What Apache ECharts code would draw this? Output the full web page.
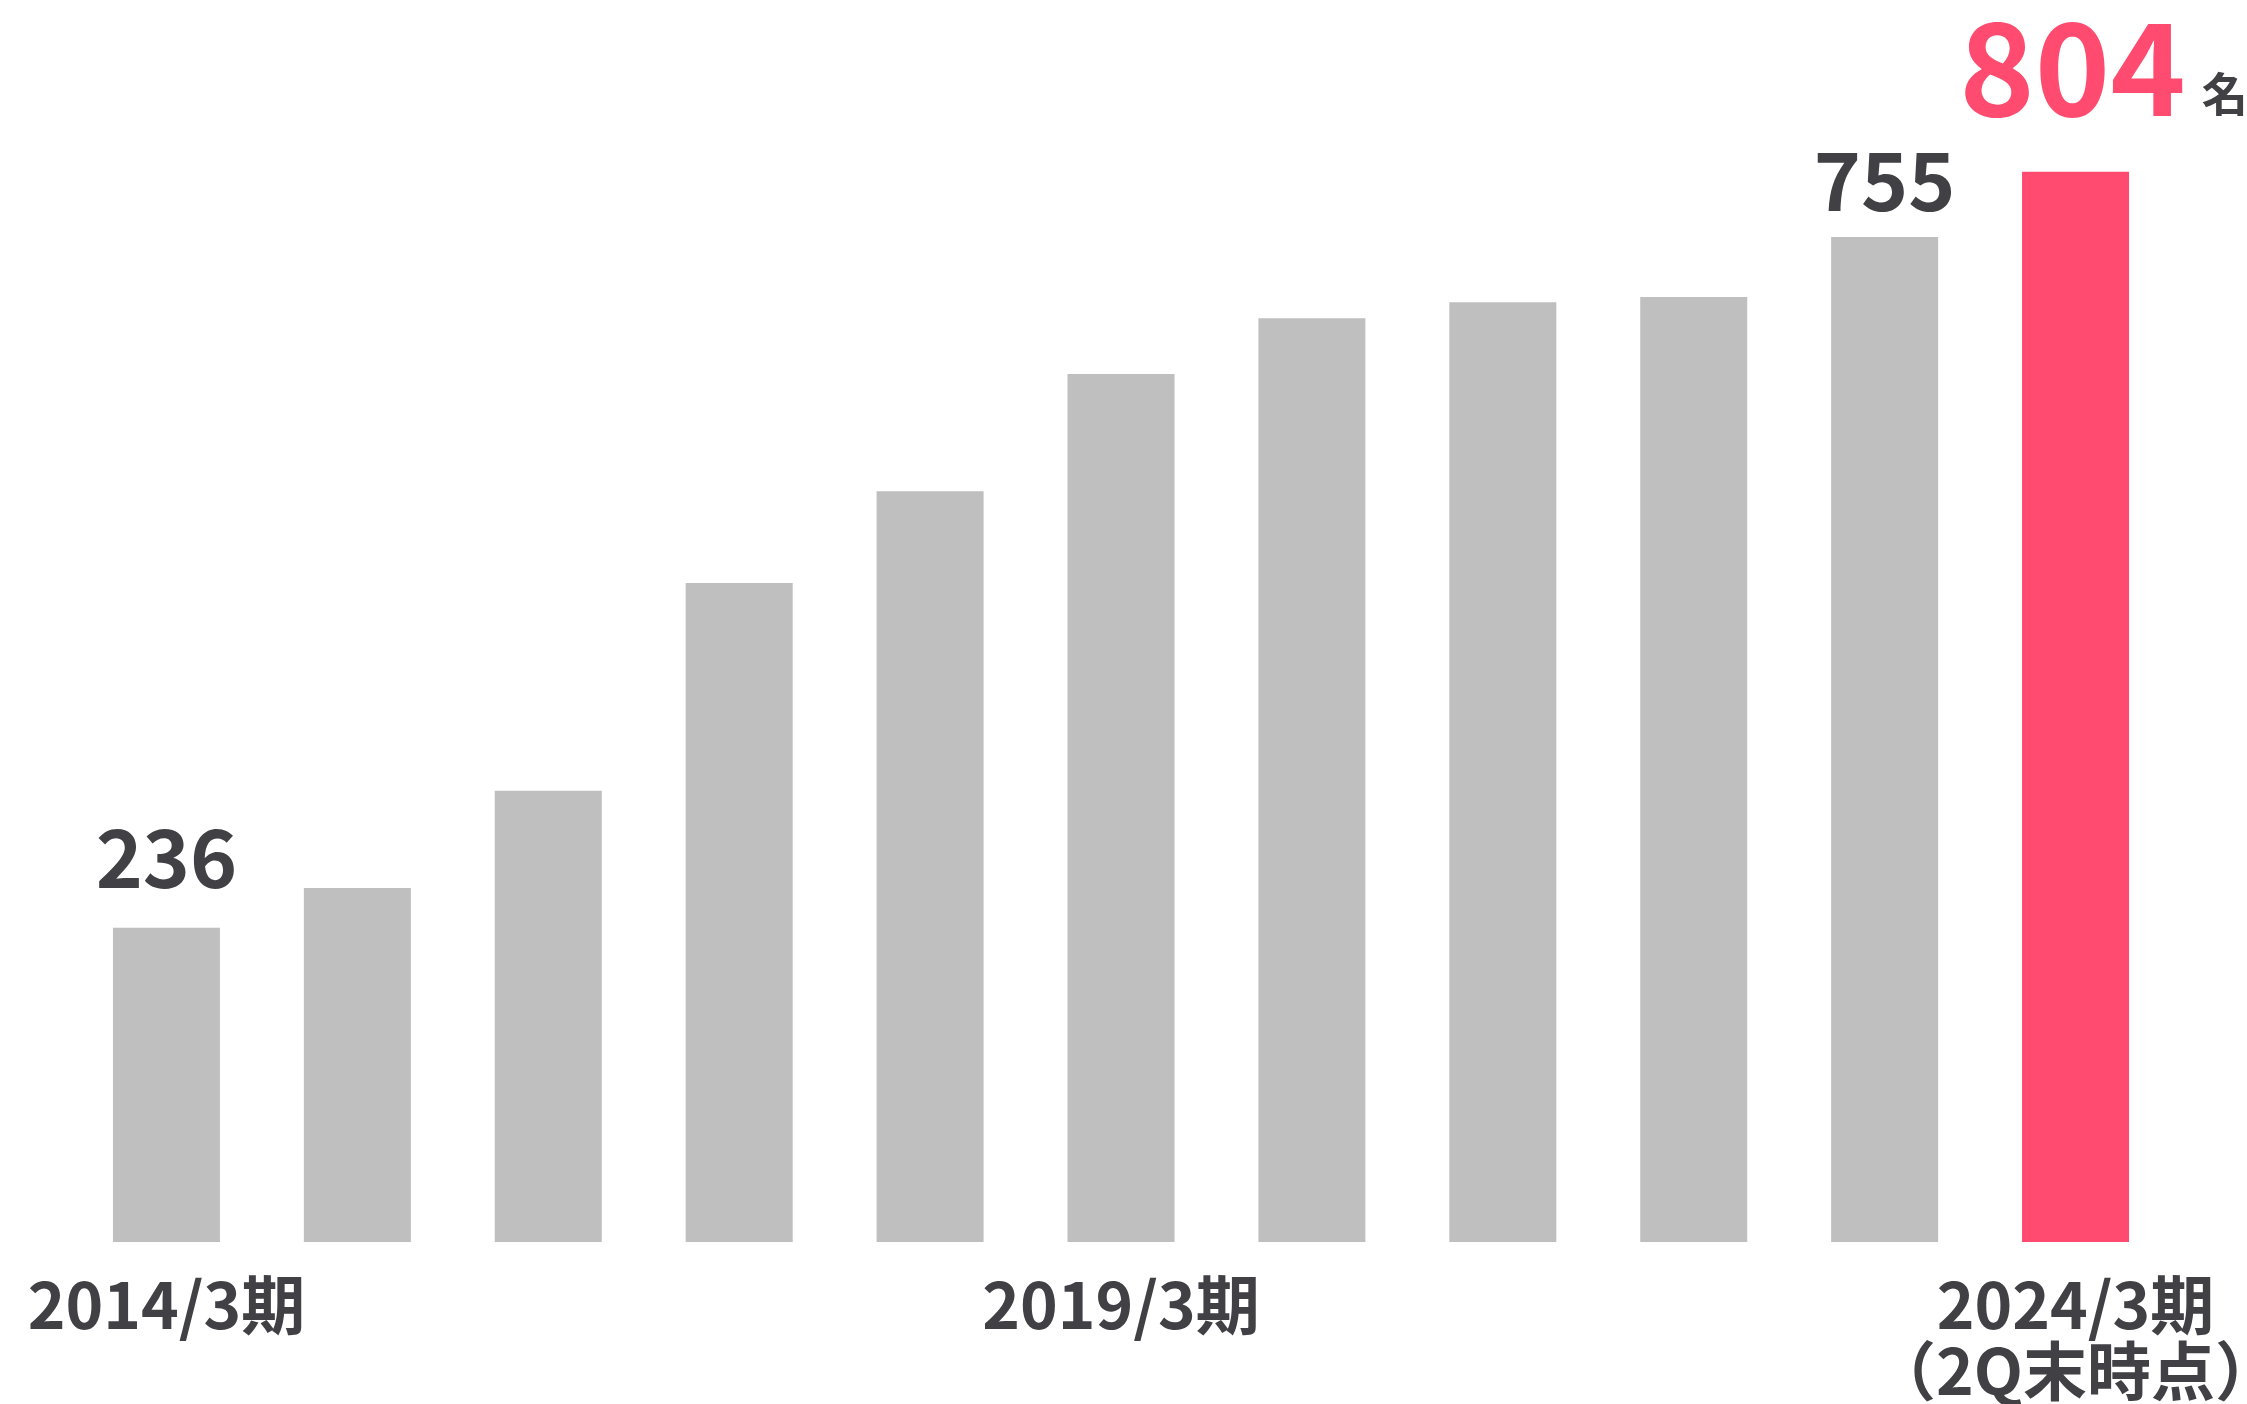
<!DOCTYPE html>
<html>
<head>
<meta charset="utf-8">
<script src="https://cdn.jsdelivr.net/npm/echarts@6/dist/echarts.min.js"></script>
<style>
  html, body { margin: 0; padding: 0; background: #fff; }
  #chart { width: 2247px; height: 1404px; }
</style>
</head>
<body>
<div id="chart"></div>
<script>
// 期別の人数
const categories = [
  '2014/3期', '2015/3期', '2016/3期', '2017/3期', '2018/3期', '2019/3期',
  '2020/3期', '2021/3期', '2022/3期', '2023/3期', '2024/3期\n（2Q末時点）'
]
const values = [236, 266, 339, 495, 564, 652, 694, 706, 710, 755, 804]
const shownTicks = [0, 5, 10]
const labeledBars = [0, 9, 10]
const unit = '名'

const textColor = '#414045'
const gray = '#bfbfbf'
const pink = '#ff4b6f'
const font = 'Noto Sans CJK JP'
const last = values.length - 1

// ラベル距離（バーごとに調整）
const labelDistance = { 0: 30, 9: 16, 10: 40 }

const seriesData = values.map((v, i) => {
  const item = {
    value: v,
    itemStyle: { color: i === last ? pink : gray }
  }
  if (labeledBars.includes(i)) {
    if (i === last) {
      item.label = {
        show: true,
        position: 'top',
        distance: labelDistance[i],
        offset: [28, 0],
        formatter: (p) => `{v|${p.value}}{u|${unit}}`,
        rich: {
          v: { fontSize: 128, fontWeight: 'bold', color: pink, fontFamily: font, lineHeight: 128 },
          u: { fontSize: 46, fontWeight: 'bold', color: textColor, fontFamily: font, padding: [0, 0, 15, 16], verticalAlign: 'bottom', lineHeight: 86 }
        }
      }
    } else {
      item.label = {
        show: true,
        position: 'top',
        distance: labelDistance[i],
        fontSize: 80,
        fontWeight: 'bold',
        color: textColor,
        fontFamily: font
      }
    }
  }
  return item
})

const chart = echarts.init(document.getElementById('chart'))
chart.setOption({
  backgroundColor: '#fff',
  animation: false,
  grid: { left: 71, right: 76, top: 44, bottom: 162, outerBoundsMode: 'none' },
  xAxis: {
    type: 'category',
    data: categories,
    axisLine: { show: false },
    axisTick: { show: false },
    axisLabel: {
      interval: 0,
      margin: 30,
      fontSize: 64,
      fontWeight: 'bold',
      color: textColor,
      fontFamily: font,
      lineHeight: 66,
      formatter: (val, idx) => shownTicks.includes(idx) ? val : ''
    }
  },
  yAxis: {
    type: 'value',
    min: 0,
    max: 900,
    show: false,
    splitLine: { show: false }
  },
  series: [{
    type: 'bar',
    data: seriesData,
    barWidth: 107
  }]
})
</script>
</body>
</html>
